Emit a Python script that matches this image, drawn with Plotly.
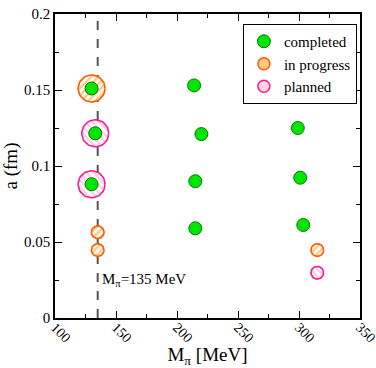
import numpy as np
import plotly.graph_objects as go

# Data
completed_x = [130, 133, 130, 214, 220, 215, 215, 299, 301, 303.5, 314]
completed_y = [0.151, 0.1215, 0.088, 0.153, 0.121, 0.090, 0.059, 0.125, 0.0923, 0.0612, 0.150]

progress_big_x = [130]
progress_big_y = [0.151]
progress_x = [135, 135, 315]
progress_y = [0.0564, 0.0447, 0.0447]

planned_big_x = [133, 130]
planned_big_y = [0.1215, 0.088]
planned_x = [315]
planned_y = [0.0298]

phys_mpi = 135
x_ticks = [100, 150, 200, 250, 300, 350]
y_ticks = [0, 0.05, 0.1, 0.15, 0.2]
y_ticklabels = ["0", "0.05", "0.1", "0.15", "0.2"]

SERIF = "Liberation Serif"
ORANGE_LINE = "#FF5A00"
ORANGE_HATCH = "#FF9A10"
ORANGE_FILL = "#FFC880"
PINK_LINE = "#FF1A8C"
PINK_HATCH = "#FF9CC8"
PINK_FILL = "#FCD4E6"
GREEN_FILL = "#00E600"
GREEN_LINE = "#007A00"

W, H = 376, 368
M_L, M_R, M_T, M_B = 55, 16, 14, 50
X_RANGE = [100, 350]
Y_RANGE = [0, 0.2]
PX_X = (W - M_L - M_R) / (X_RANGE[1] - X_RANGE[0])
PX_Y = (H - M_T - M_B) / (Y_RANGE[1] - Y_RANGE[0])


def circles(xs, ys, r_px, n=48):
    """Outline of circles of r_px pixels around the data points (for hatched fills)."""
    t = np.linspace(0, 2 * np.pi, n)
    px, py = [], []
    for cx, cy in zip(xs, ys):
        px += list(cx + r_px / PX_X * np.cos(t)) + [None]
        py += list(cy + r_px / PX_Y * np.sin(t)) + [None]
    return px, py


def hatched(xs, ys, r_px, line, hatch, shape, solidity):
    px, py = circles(xs, ys, r_px)
    return go.Scatter(x=px, y=py, mode="lines", fill="toself", showlegend=False, hoverinfo="skip",
                      line=dict(color=line, width=1.6),
                      fillcolor="white",
                      fillpattern=dict(shape=shape, fgcolor=hatch, bgcolor="white", size=5, solidity=solidity))


fig = go.Figure()

# Big hatched rings (below completed points)
fig.add_trace(hatched(progress_big_x, progress_big_y, 13.5, ORANGE_LINE, ORANGE_HATCH, "/", 0.5))
fig.add_trace(hatched(planned_big_x, planned_big_y, 13.5, PINK_LINE, PINK_HATCH, "\\", 0.45))

fig.add_trace(go.Scatter(x=completed_x, y=completed_y, mode="markers", name="completed",
                         marker=dict(size=13, color=GREEN_FILL, line=dict(color=GREEN_LINE, width=1))))
fig.add_trace(go.Scatter(x=progress_x, y=progress_y, mode="markers", name="in progress",
                         marker=dict(size=12, color=ORANGE_FILL, line=dict(color=ORANGE_LINE, width=1.5))))
fig.add_trace(go.Scatter(x=planned_x, y=planned_y, mode="markers", name="planned",
                         marker=dict(size=12, color=PINK_FILL, line=dict(color=PINK_LINE, width=1.5))))

# Hatched small markers on top of their plain counterparts
fig.add_trace(hatched(progress_x, progress_y, 6.3, ORANGE_LINE, ORANGE_HATCH, "/", 0.5))
fig.add_trace(hatched(planned_x, planned_y, 6.3, PINK_LINE, PINK_HATCH, "\\", 0.45))

fig.add_shape(type="line", xref="x", yref="paper", x0=phys_mpi, x1=phys_mpi, y0=0, y1=1,
              line=dict(color="#555555", width=2, dash="dash"), layer="below")

fig.add_annotation(x=phys_mpi + 1.5, y=0.025, xref="x", yref="y", xanchor="left", yanchor="middle",
                   text="M<sub>π</sub>=135 MeV", showarrow=False,
                   font=dict(family=SERIF, size=15, color="black"))

axis_common = dict(showgrid=False, zeroline=False, showline=True, linecolor="black", linewidth=1.5,
                   mirror="allticks", ticks="inside", ticklen=7, tickcolor="black", tickwidth=1,
                   automargin=False, ticklabeloverflow="allow")

fig.update_xaxes(range=X_RANGE, tickvals=x_ticks, tickangle=45, ticklabelstandoff=-6,
                 tickfont=dict(family=SERIF, size=14, color="black"),
                 minor=dict(ticks="inside", ticklen=4, dtick=25, tickcolor="black"),
                 title=dict(text="M<sub>π</sub> [MeV]", font=dict(family=SERIF, size=19, color="black"), standoff=10),
                 **axis_common)
fig.update_yaxes(range=Y_RANGE, tickvals=y_ticks, ticktext=y_ticklabels,
                 tickfont=dict(family=SERIF, size=15, color="black"),
                 minor=dict(ticks="inside", ticklen=4, dtick=0.025, tickcolor="black"),
                 title=dict(text="a (fm)", font=dict(family=SERIF, size=19, color="black"), standoff=6),
                 **axis_common)

fig.update_layout(
    width=W, height=H,
    margin=dict(l=M_L, r=M_R, t=M_T, b=M_B),
    plot_bgcolor="white", paper_bgcolor="white",
    font=dict(family=SERIF, color="black"),
    legend=dict(x=0.616, y=0.967, xanchor="left", yanchor="top",
                bordercolor="black", borderwidth=1, bgcolor="white",
                font=dict(family=SERIF, size=15, color="black"),
                tracegroupgap=0, itemwidth=30),
)

fig.write_html("out.html")
